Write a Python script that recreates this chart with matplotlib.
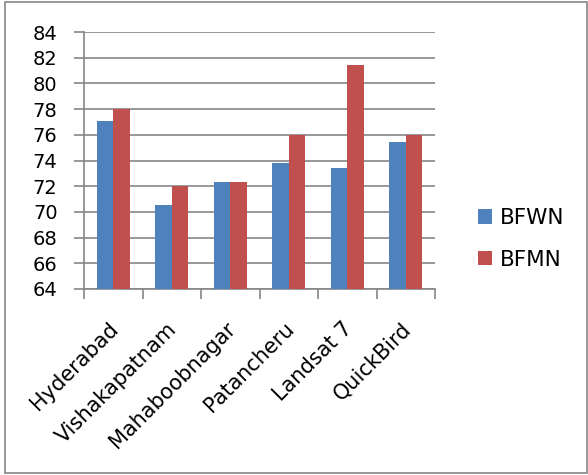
import matplotlib.pyplot as plt
import matplotlib.transforms as mtransforms
import numpy as np

# Accuracy per study area / sensor
sites = ["Hyderabad", "Vishakapatnam", "Mahaboobnagar", "Patancheru", "Landsat 7", "QuickBird"]
bfwn = [77.05, 70.5, 72.3, 73.8, 73.45, 75.45]
bfmn = [78.0, 72.0, 72.3, 76.0, 81.45, 75.95]

plt.rcParams['font.family'] = ['DejaVu Sans']

fig = plt.figure(figsize=(5.88, 4.75), dpi=100)
ax = fig.add_axes([84 / 588, 1 - 289 / 475, 351 / 588, 257 / 475])

x = np.arange(len(sites))
w = 0.286
ax.bar(x - w / 2, bfwn, w, color="#4F81BD", label="BFWN", zorder=3)
ax.bar(x + w / 2, bfmn, w, color="#C0504D", label="BFMN", zorder=3)

ax.set_ylim(64, 84)
ax.set_yticks(np.arange(64, 85, 2))
ax.set_xlim(-0.5, len(sites) - 0.5)
ax.yaxis.grid(True, color="#868686", linewidth=1.2, zorder=0)

# category labels under the centres, ticks between groups
ax.set_xticks(x)
ax.set_xticklabels(sites, rotation=45, ha="right", rotation_mode="anchor", fontsize=15)
ax.tick_params(axis="x", length=0, pad=4)
shift = mtransforms.ScaledTranslation(-5 / 100, -24 / 100, fig.dpi_scale_trans)
for lab in ax.get_xticklabels():
    lab.set_transform(lab.get_transform() + shift)
ax.set_xticks(np.arange(-0.5, len(sites)), minor=True)
ax.tick_params(axis="x", which="minor", length=7, color="#868686", width=1.2)
ax.tick_params(axis="y", labelsize=14, length=7, color="#868686", width=1.2, pad=12)

for side in ["top", "right"]:
    ax.spines[side].set_visible(False)
for side in ["left", "bottom"]:
    ax.spines[side].set_color("#868686")
    ax.spines[side].set_linewidth(1.2)

ax.legend(loc="center left", bbox_to_anchor=(469 / 588, 1 - 239 / 475),
          bbox_transform=fig.transFigure, frameon=False, fontsize=15.5,
          handlelength=0.65, handleheight=0.65, handletextpad=0.4,
          labelspacing=1.0, borderaxespad=0)

# outer frame around the chart area
fig.add_artist(plt.Rectangle((5 / 588, 2 / 475), 582 / 588, 471 / 475,
                             transform=fig.transFigure, fill=False,
                             edgecolor="#868686", linewidth=1.2))

fig.savefig("out.png", dpi=100)
